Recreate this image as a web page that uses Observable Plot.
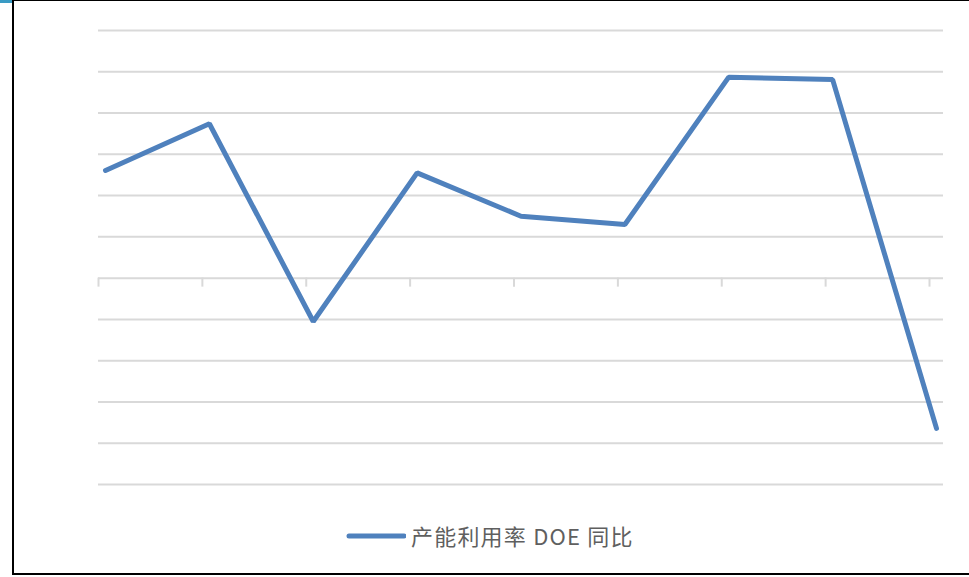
<!DOCTYPE html>
<html>
<head>
<meta charset="utf-8">
<script src="https://cdn.jsdelivr.net/npm/d3@7"></script>
<script src="https://cdn.jsdelivr.net/npm/@observablehq/plot@0.6"></script>
<style>
  html, body { margin: 0; padding: 0; background: #fff; width: 969px; height: 577px; overflow: hidden; position: relative; }
  #chart { position: absolute; left: 0; top: 0; }
  #frame { position: absolute; left: 12px; top: -1px; width: 1000px; height: 576px; border: 2.5px solid #000; box-sizing: border-box; pointer-events: none; }
  #corner { position: absolute; left: 0; top: 0; width: 12px; height: 3px; background: #3a9bc4; }
  #legend { position: absolute; left: 344px; top: 519px; display: flex; align-items: center; font-family: "Noto Sans CJK SC", "Noto Sans", sans-serif; font-size: 22px; letter-spacing: 1.2px; color: #5f5f5f; white-space: pre; }
  #legend svg { margin-right: 5px; }
</style>
</head>
<body>
<div id="chart"></div>
<div id="legend"></div>
<div id="frame"></div>
<div id="corner"></div>
<script>
// Data (in gridline units)
const seriesName = "产能利用率 DOE 同比";
const periods = [0, 1, 2, 3, 4, 5, 6, 7, 8];
const values = [2.61, 3.74, -1.05, 2.55, 1.50, 1.30, 4.87, 4.81, -3.64];
const gridValues = [-5, -4, -3, -2, -1, 0, 1, 2, 3, 4, 5, 6];
const yDomain = [-5, 6];
const xPad = 0.0674;

const lineColor = "#4F81BD";
const gridColor = "#d9d9d9";

const data = periods.map((p, i) => ({ p, v: values[i] }));

const chart = Plot.plot({
  width: 969,
  height: 505,
  marginLeft: 98,
  marginRight: 26,
  marginTop: 30,
  marginBottom: 21,
  x: { domain: [periods[0] - xPad, periods[periods.length - 1] + xPad], axis: null },
  y: { domain: yDomain, axis: null },
  marks: [
    Plot.ruleY(gridValues, { y: d => d, stroke: gridColor, strokeWidth: 2 }),
    Plot.ruleX(periods, { x: d => d, y1: 0, y2: 0, insetBottom: -9, dx: -7, stroke: gridColor, strokeWidth: 2 }),
    Plot.line(data, { x: "p", y: "v", stroke: lineColor, strokeWidth: 5, strokeLinejoin: "miter", strokeLinecap: "round" })
  ]
});
document.getElementById("chart").appendChild(chart);

// Legend
const legend = document.getElementById("legend");
const sw = d3.create("svg").attr("width", 62).attr("height", 30);
sw.append("line").attr("x1", 5).attr("x2", 60).attr("y1", 16).attr("y2", 16)
  .attr("stroke", lineColor).attr("stroke-width", 5).attr("stroke-linecap", "round");
legend.appendChild(sw.node());
const span = document.createElement("span");
span.textContent = seriesName;
legend.appendChild(span);
</script>
</body>
</html>
